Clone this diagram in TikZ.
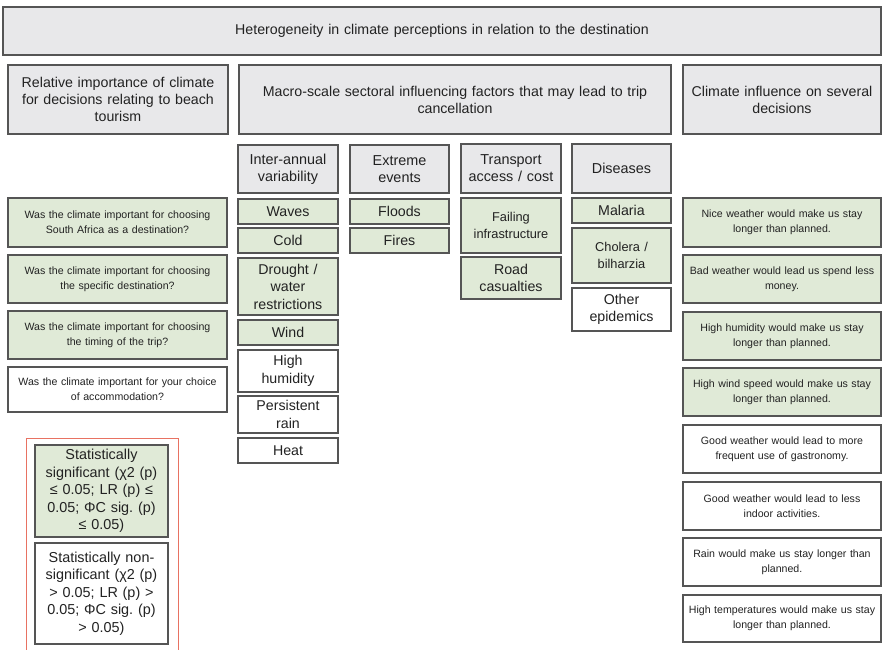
\documentclass[tikz,border=0pt]{standalone}
\usepackage{fontspec}
\setmainfont{Liberation Sans}
\frenchspacing
\definecolor{bxgrey}{HTML}{E8E8EA}
\definecolor{bxgreen}{HTML}{E0EAD7}
\definecolor{bxline}{HTML}{555555}
\definecolor{bxtext}{HTML}{222222}
\definecolor{legred}{HTML}{E87262}
\newcommand{\fHead}{\fontsize{14.2}{17}\selectfont}
\newcommand{\fCat}{\fontsize{14.4}{17}\selectfont}
\newcommand{\fItem}{\fontsize{14.2}{17.5}\selectfont}
\newcommand{\fSmallItem}{\fontsize{12.8}{17}\selectfont}
\newcommand{\fQ}{\fontsize{10.6}{15}\selectfont}
\newcommand{\fLeg}{\fontsize{14.4}{17.5}\selectfont}
\tikzset{
  base/.style={draw=bxline, line width=1.4pt, inner sep=0pt, align=center, text=bxtext},
  greybox/.style={base, fill=bxgrey},
  greenbox/.style={base, fill=bxgreen},
  whitebox/.style={base, fill=white},
  legendframe/.style={draw=legred, line width=1pt, inner sep=0pt},
  hd/.style={font=\fHead},
  ct/.style={font=\fCat},
  it/.style={font=\fItem},
  sit/.style={font=\fSmallItem},
  qq/.style={font=\fQ},
  lg/.style={font=\fLeg},
}
% \bx{name}{style}{x1}{y1}{x2}{y2}{text}
\newcommand{\bx}[7]{%
  \pgfmathsetmacro\bxw{#5-#3}%
  \pgfmathsetmacro\bxh{#6-#4}%
  \pgfmathsetmacro\bxt{#5-#3-4}%
  \node[#2, minimum width=\bxw pt, minimum height=\bxh pt, text width=\bxt pt] (#1) at ({(#3+#5)/2},{(#4+#6)/2}) {#7};}
\begin{document}
\begin{tikzpicture}[x=1pt,y=-1pt]
\useasboundingbox (0,0) rectangle (886,649);
% top
\bx{top}{greybox,hd}{3}{7}{881}{55}{Heterogeneity in climate perceptions in relation to the destination}
% row 2
\bx{relimp}{greybox,hd}{8}{65}{228}{134}{Relative importance of climate\\for decisions relating to beach\\tourism}
\bx{macro}{greybox,hd}{239}{65}{671}{134}{Macro-scale sectoral influencing factors that may lead to trip\\cancellation}
\bx{clinf}{greybox,hd}{683}{65}{881}{134}{Climate influence on several\\decisions}
% category headers
\bx{interann}{greybox,ct}{238}{145}{338}{193}{Inter-annual\\variability}
\bx{extreme}{greybox,ct}{350}{145}{449}{193}{Extreme\\events}
\bx{transport}{greybox,ct}{461}{144}{561}{193}{Transport\\access / cost}
\bx{diseases}{greybox,ct}{572}{144}{671}{193}{Diseases}
% column 1
\bx{waves}{greenbox,it}{238}{199}{338}{224}{Waves}
\bx{cold}{greenbox,it}{238}{228}{338}{253}{Cold}
\bx{drought}{greenbox,it}{238}{258}{338}{315}{Drought /\\water\\restrictions}
\bx{wind}{greenbox,it}{238}{320}{338}{345}{Wind}
\bx{humid}{whitebox,it}{238}{350}{338}{392}{High\\humidity}
\bx{rain}{whitebox,it}{238}{396}{338}{433}{Persistent\\rain}
\bx{heat}{whitebox,it}{238}{438}{338}{463}{Heat}
% column 2
\bx{floods}{greenbox,it}{350}{199}{449}{224}{Floods}
\bx{fires}{greenbox,it}{350}{228}{449}{253}{Fires}
% column 3
\bx{failing}{greenbox,sit}{461}{198}{561}{253}{Failing\\infrastructure}
\bx{road}{greenbox,it}{461}{257}{561}{299}{Road\\casualties}
% column 4
\bx{malaria}{greenbox,it}{572}{198}{671}{223}{Malaria}
\bx{cholera}{greenbox,sit}{572}{228}{671}{283}{Cholera /\\bilharzia}
\bx{otherep}{whitebox,it}{572}{288}{671}{331}{Other\\epidemics}
% left questions
\bx{q1}{greenbox,qq}{8}{198}{227}{247}{Was the climate important for choosing\\South Africa as a destination?}
\bx{q2}{greenbox,qq}{8}{255}{227}{303}{Was the climate important for choosing\\the specific destination?}
\bx{q3}{greenbox,qq}{8}{311}{227}{359}{Was the climate important for choosing\\the timing of the trip?}
\bx{q4}{whitebox,qq}{8}{367}{227}{412}{Was the climate important for your choice\\of accommodation?}
% legend
\bx{legend}{legendframe}{26}{438}{178}{655}{}
\bx{legsig}{greenbox,lg}{35}{445}{168}{537}{Statistically\\significant (χ2 (p)\\≤ 0.05; LR (p) ≤\\0.05; ΦC sig. (p)\\≤ 0.05)}
\bx{legnon}{whitebox,lg}{35}{543}{168}{644}{Statistically non-\\significant (χ2 (p)\\> 0.05; LR (p) >\\0.05; ΦC sig. (p)\\> 0.05)}
% right column
\bx{r1}{greenbox,qq}{683}{198}{881}{247}{Nice weather would make us stay\\longer than planned.}
\bx{r2}{greenbox,qq}{683}{255}{881}{303}{Bad weather would lead us spend less\\money.}
\bx{r3}{greenbox,qq}{683}{312}{881}{360}{High humidity would make us stay\\longer than planned.}
\bx{r4}{greenbox,qq}{683}{368}{881}{416}{High wind speed would make us stay\\longer than planned.}
\bx{r5}{whitebox,qq}{683}{425}{881}{473}{Good weather would lead to more\\frequent use of gastronomy.}
\bx{r6}{whitebox,qq}{683}{482}{881}{530}{Good weather would lead to less\\indoor activities.}
\bx{r7}{whitebox,qq}{683}{538}{881}{586}{Rain would make us stay longer than\\planned.}
\bx{r8}{whitebox,qq}{683}{595}{881}{642}{High temperatures would make us stay\\longer than planned.}
\end{tikzpicture}
\end{document}
